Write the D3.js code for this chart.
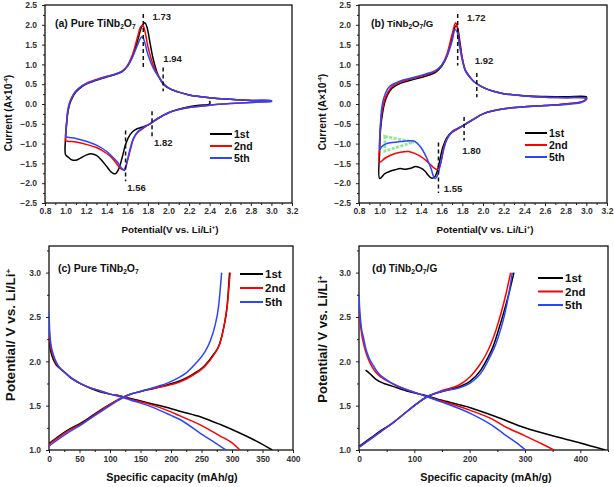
<!DOCTYPE html>
<html><head><meta charset="utf-8">
<script src="https://cdn.jsdelivr.net/npm/d3@7"></script>
<style>
body{margin:0;background:#fff;}
svg text{font-family:"Liberation Sans",Arial,sans-serif;font-weight:bold;}
</style></head>
<body><svg id="c" width="614" height="487"></svg>
<script>
// ---------------- DATA ----------------
const seriesNames = ["1st","2nd","5th"];
const seriesColors = ["#000000","#ff0000","#2b45ff"];

// CV pure TiNb2O7 (V, current x1e-4 A)
const cvA_1st = [[2.4,0.08],[2.4,0.0],[2.3,-0.03],[2.2,-0.07],[2.1,-0.13],[2.0,-0.22],[1.9,-0.36],[1.82,-0.5],[1.75,-0.58],[1.7,-0.62],[1.65,-0.7],[1.61,-0.85],[1.58,-1.05],[1.55,-1.35],[1.52,-1.62],[1.49,-1.75],[1.47,-1.76],[1.44,-1.71],[1.4,-1.58],[1.35,-1.42],[1.3,-1.3],[1.26,-1.26],[1.2,-1.29],[1.15,-1.36],[1.1,-1.42],[1.06,-1.41],[1.03,-1.35],[1.0,-1.28],[1.0,-0.85],[1.01,-0.5],[1.02,-0.25],[1.04,0.0],[1.07,0.18],[1.1,0.3],[1.15,0.42],[1.2,0.5],[1.3,0.6],[1.4,0.68],[1.5,0.76],[1.55,0.82],[1.6,0.95],[1.65,1.2],[1.7,1.6],[1.74,1.95],[1.77,2.05],[1.79,1.95],[1.82,1.55],[1.85,1.15],[1.9,0.72],[1.95,0.5],[2.0,0.4],[2.1,0.3],[2.2,0.23],[2.4,0.16],[2.6,0.12],[2.8,0.09],[3.0,0.07]];
const cvA_2nd = [[3.0,0.06],[2.8,0.04],[2.6,0.01],[2.4,-0.03],[2.2,-0.09],[2.1,-0.14],[2.0,-0.22],[1.9,-0.36],[1.82,-0.5],[1.75,-0.62],[1.7,-0.72],[1.66,-0.88],[1.63,-1.15],[1.6,-1.45],[1.58,-1.62],[1.56,-1.66],[1.53,-1.62],[1.5,-1.52],[1.45,-1.36],[1.4,-1.25],[1.3,-1.1],[1.2,-1.02],[1.1,-0.96],[1.0,-0.92],[1.0,-0.85],[1.01,-0.5],[1.02,-0.22],[1.04,0.02],[1.07,0.2],[1.1,0.32],[1.15,0.44],[1.2,0.52],[1.3,0.62],[1.4,0.7],[1.5,0.77],[1.55,0.83],[1.6,0.97],[1.65,1.25],[1.7,1.7],[1.73,1.95],[1.75,1.99],[1.77,1.85],[1.8,1.45],[1.85,1.0],[1.9,0.72],[1.95,0.52],[2.0,0.41],[2.1,0.3],[2.2,0.23],[2.4,0.16],[2.6,0.12],[2.8,0.09],[3.0,0.08],[3.0,0.06]];
const cvA_5th = [[3.0,0.06],[2.8,0.04],[2.6,0.01],[2.4,-0.03],[2.2,-0.09],[2.1,-0.14],[2.0,-0.22],[1.9,-0.36],[1.82,-0.5],[1.75,-0.6],[1.7,-0.7],[1.66,-0.86],[1.63,-1.1],[1.6,-1.42],[1.58,-1.63],[1.57,-1.68],[1.54,-1.6],[1.5,-1.45],[1.45,-1.32],[1.4,-1.2],[1.3,-1.04],[1.2,-0.94],[1.1,-0.87],[1.0,-0.82],[1.0,-0.78],[1.01,-0.45],[1.02,-0.18],[1.04,0.05],[1.07,0.22],[1.1,0.33],[1.15,0.44],[1.2,0.51],[1.3,0.61],[1.4,0.69],[1.5,0.77],[1.55,0.83],[1.6,0.95],[1.65,1.18],[1.7,1.5],[1.73,1.67],[1.745,1.7],[1.77,1.55],[1.8,1.25],[1.85,0.92],[1.9,0.7],[1.95,0.52],[2.0,0.41],[2.1,0.3],[2.2,0.23],[2.4,0.16],[2.6,0.12],[2.8,0.09],[3.0,0.08],[3.0,0.06]];

// CV TiNb2O7/G
const cvB_1st = [[3.0,0.12],[2.95,0.05],[2.8,0.0],[2.6,-0.04],[2.4,-0.07],[2.2,-0.12],[2.1,-0.17],[2.0,-0.25],[1.9,-0.4],[1.8,-0.56],[1.75,-0.63],[1.7,-0.7],[1.65,-0.85],[1.61,-1.1],[1.58,-1.45],[1.55,-1.75],[1.53,-1.85],[1.5,-1.87],[1.47,-1.8],[1.44,-1.7],[1.4,-1.62],[1.35,-1.58],[1.3,-1.62],[1.25,-1.65],[1.2,-1.63],[1.15,-1.66],[1.1,-1.7],[1.05,-1.76],[1.0,-1.88],[1.0,-1.2],[1.01,-0.6],[1.03,-0.2],[1.05,0.05],[1.08,0.25],[1.12,0.4],[1.2,0.52],[1.3,0.6],[1.4,0.67],[1.5,0.75],[1.55,0.82],[1.6,0.95],[1.65,1.2],[1.7,1.65],[1.73,1.95],[1.745,1.98],[1.76,1.85],[1.78,1.5],[1.8,1.15],[1.83,0.85],[1.88,0.66],[1.92,0.55],[2.0,0.42],[2.1,0.32],[2.2,0.26],[2.4,0.21],[2.6,0.19],[2.8,0.18],[3.0,0.18],[3.0,0.12]];
const cvB_2nd = [[3.0,0.12],[2.95,0.05],[2.8,0.0],[2.6,-0.04],[2.4,-0.07],[2.2,-0.12],[2.1,-0.17],[2.0,-0.25],[1.9,-0.4],[1.8,-0.56],[1.75,-0.64],[1.7,-0.72],[1.65,-0.88],[1.62,-1.1],[1.6,-1.38],[1.58,-1.58],[1.56,-1.65],[1.53,-1.62],[1.5,-1.55],[1.45,-1.43],[1.4,-1.33],[1.35,-1.26],[1.28,-1.2],[1.2,-1.22],[1.1,-1.3],[1.05,-1.37],[1.0,-1.47],[1.0,-1.0],[1.01,-0.5],[1.03,-0.1],[1.05,0.12],[1.08,0.3],[1.12,0.44],[1.2,0.55],[1.3,0.63],[1.4,0.7],[1.5,0.78],[1.55,0.84],[1.6,0.98],[1.65,1.25],[1.7,1.75],[1.735,2.05],[1.75,1.95],[1.77,1.6],[1.8,1.15],[1.83,0.85],[1.88,0.66],[1.92,0.55],[2.0,0.42],[2.1,0.32],[2.2,0.26],[2.4,0.2],[2.6,0.17],[2.8,0.16],[3.0,0.15],[3.0,0.12]];
const cvB_5th = [[3.0,0.1],[2.95,0.04],[2.8,-0.01],[2.6,-0.04],[2.4,-0.07],[2.2,-0.12],[2.1,-0.17],[2.0,-0.25],[1.9,-0.39],[1.8,-0.55],[1.75,-0.62],[1.7,-0.7],[1.65,-0.9],[1.62,-1.15],[1.59,-1.5],[1.56,-1.8],[1.54,-1.88],[1.52,-1.82],[1.5,-1.65],[1.47,-1.45],[1.44,-1.28],[1.4,-1.1],[1.36,-0.98],[1.32,-0.93],[1.28,-0.93],[1.2,-0.95],[1.1,-0.98],[1.05,-1.02],[1.02,-1.08],[1.0,-1.15],[1.0,-0.9],[1.01,-0.4],[1.02,-0.1],[1.04,0.15],[1.07,0.35],[1.1,0.45],[1.2,0.58],[1.3,0.65],[1.4,0.72],[1.5,0.8],[1.55,0.86],[1.6,0.98],[1.65,1.2],[1.7,1.58],[1.73,1.88],[1.75,1.82],[1.77,1.5],[1.8,1.1],[1.83,0.83],[1.88,0.65],[1.92,0.55],[2.0,0.42],[2.1,0.32],[2.2,0.26],[2.4,0.2],[2.6,0.17],[2.8,0.16],[3.0,0.14],[3.0,0.1]];
const greenMarkB = [[1.05,-0.82],[1.33,-0.96],[1.05,-1.19]];

// Peak annotations: [label, potential, from current, to current, label x, label y]
const peaksA = [["1.73",1.755,2.27,0.92,1.845,2.12],["1.94",1.948,0.92,0.32,1.95,1.05],["1.82",1.84,-0.18,-0.82,1.86,-1.05],["1.56",1.583,-0.67,-1.95,1.6,-2.2]];
const peaksB = [["1.72",1.755,2.27,0.97,1.845,2.1],["1.92",1.94,0.78,0.17,1.92,1.02],["1.80",1.817,-0.33,-0.92,1.8,-1.27],["1.55",1.569,-0.97,-2.25,1.62,-2.23]];

// Charge/discharge pure TiNb2O7 (mAh/g, V)
const gcdC_dis_1st = [[0,2.3],[2,2.15],[5,2.06],[10,1.98],[16,1.93],[25,1.88],[33,1.83],[54,1.74],[82,1.66],[100,1.63],[117,1.61],[140,1.57],[163,1.53],[198,1.47],[213,1.44],[250,1.37],[280,1.29],[310,1.2],[340,1.1],[366,1.0]];
const gcdC_dis_2nd = [[0,2.4],[2,2.2],[5,2.1],[10,2.0],[16,1.94],[25,1.88],[33,1.83],[54,1.74],[82,1.67],[100,1.63],[117,1.61],[140,1.56],[163,1.52],[200,1.43],[213,1.39],[252,1.27],[280,1.16],[300,1.08],[313,1.0]];
const gcdC_dis_5th = [[0,2.55],[1,2.35],[3,2.2],[6,2.1],[10,2.02],[16,1.94],[25,1.88],[33,1.83],[54,1.74],[82,1.67],[100,1.63],[117,1.6],[140,1.55],[163,1.5],[200,1.39],[213,1.35],[252,1.17],[275,1.07],[290,1.0]];
const gcdC_chg_1st = [[0,1.07],[5,1.1],[15,1.15],[30,1.22],[54,1.31],[80,1.43],[109,1.55],[130,1.62],[150,1.66],[175,1.7],[196,1.74],[215,1.78],[235,1.85],[255,1.95],[270,2.08],[280,2.2],[287,2.4],[292,2.62],[296,3.0]];
const gcdC_chg_2nd = [[0,1.06],[5,1.09],[15,1.14],[30,1.21],[54,1.3],[80,1.42],[109,1.55],[130,1.62],[150,1.66],[175,1.7],[196,1.73],[215,1.77],[235,1.84],[255,1.94],[270,2.07],[280,2.2],[287,2.4],[292,2.62],[297,3.0]];
const gcdC_chg_5th = [[0,1.04],[5,1.07],[15,1.12],[30,1.19],[54,1.29],[80,1.41],[109,1.54],[130,1.62],[150,1.66],[175,1.71],[196,1.76],[211,1.81],[225,1.87],[241,1.98],[255,2.1],[265,2.24],[272,2.4],[278,2.62],[283,3.0]];

// Charge/discharge TiNb2O7/G
const gcdD_dis_1st = [[12,1.9],[18,1.87],[30,1.8],[45,1.75],[60,1.72],[90,1.66],[110,1.63],[123,1.61],[150,1.56],[200,1.48],[250,1.37],[300,1.25],[350,1.16],[400,1.08],[445,1.0]];
const gcdD_dis_2nd = [[0,2.6],[2,2.45],[5,2.3],[9,2.18],[14,2.07],[20,1.98],[30,1.88],[40,1.82],[60,1.75],[90,1.67],[110,1.63],[123,1.6],[150,1.55],[200,1.45],[240,1.35],[262,1.27],[300,1.16],[330,1.07],[352,1.0]];
const gcdD_dis_5th = [[0,2.75],[1,2.62],[3,2.45],[5,2.35],[8,2.27],[12,2.15],[18,2.04],[25,1.96],[36,1.86],[48,1.8],[60,1.75],[90,1.67],[110,1.63],[123,1.6],[150,1.54],[202,1.41],[240,1.28],[262,1.18],[285,1.08],[301,1.0]];
const gcdD_chg_1st = [[0,1.04],[20,1.13],[40,1.22],[60,1.3],[80,1.4],[100,1.5],[123,1.6],[150,1.66],[180,1.71],[200,1.77],[220,1.9],[232,2.03],[242,2.16],[252,2.35],[262,2.56],[272,2.79],[280,3.0]];
const gcdD_chg_2nd = [[0,1.03],[20,1.12],[40,1.21],[60,1.3],[80,1.4],[100,1.5],[123,1.6],[150,1.67],[180,1.73],[200,1.82],[217,1.95],[228,2.06],[238,2.19],[248,2.36],[257,2.55],[266,2.77],[274,3.0]];
const gcdD_chg_5th = [[0,1.03],[20,1.12],[40,1.21],[60,1.3],[80,1.4],[100,1.5],[123,1.6],[150,1.66],[180,1.7],[200,1.75],[224,1.9],[236,2.04],[247,2.19],[256,2.36],[264,2.55],[271,2.77],[277,3.0]];

// Ticks
const cvXTicks = [0.8,1.0,1.2,1.4,1.6,1.8,2.0,2.2,2.4,2.6,2.8,3.0,3.2];
const cvYTicks = [-2.5,-2.0,-1.5,-1.0,-0.5,0.0,0.5,1.0,1.5,2.0,2.5];
const cXTicks = [0,50,100,150,200,250,300,350,400];
const dXTicks = [0,100,200,300,400];
const gcdYTicks = [1.0,1.5,2.0,2.5,3.0];

// ---------------- DRAW ----------------
const svg = d3.select("#c");
const FONT_TICK = 8.5;

function minorVals(ticks, step, lo, hi){
  const out=[];
  for(let v=lo; v<=hi+1e-9; v+=step){
    if(!ticks.some(t=>Math.abs(t-v)<1e-6)) out.push(+v.toFixed(6));
  }
  return out;
}

function panel(p){
  const x = d3.scaleLinear().domain(p.xd).range([p.x0,p.x1]);
  const y = d3.scaleLinear().domain(p.yd).range([p.y1,p.y0]);
  const g = svg.append("g");
  g.append("g").attr("transform",`translate(0,${p.y1})`)
    .call(d3.axisBottom(x).tickValues(p.xt).tickFormat(p.xf).tickSize(3).tickPadding(p.xpad));
  g.append("g").attr("transform",`translate(0,${p.y1})`)
    .call(d3.axisBottom(x).tickValues(minorVals(p.xt,p.xminor,p.xd[0],p.xd[1])).tickFormat("").tickSize(2));
  g.append("g").attr("transform",`translate(${p.x0},0)`)
    .call(d3.axisLeft(y).tickValues(p.yt).tickFormat(d3.format(".1f")).tickSize(3).tickPadding(p.ypad));
  g.append("g").attr("transform",`translate(${p.x0},0)`)
    .call(d3.axisLeft(y).tickValues(minorVals(p.yt,p.yminor,p.yd[0],p.yd[1])).tickFormat("").tickSize(2));
  g.selectAll(".domain").remove();
  g.selectAll(".tick line").attr("stroke","#222").attr("stroke-width",1);
  g.selectAll(".tick text").attr("font-size",FONT_TICK).attr("fill","#333")
    .attr("font-family","'Liberation Sans',Arial,sans-serif").attr("font-weight","bold");
  g.append("rect").attr("x",p.x0).attr("y",p.y0).attr("width",p.x1-p.x0).attr("height",p.y1-p.y0)
    .attr("fill","none").attr("stroke","#111").attr("stroke-width",1.3);
  const cid = "clip"+p.id;
  svg.append("clipPath").attr("id",cid).append("rect").attr("x",p.x0).attr("y",p.y0).attr("width",p.x1-p.x0).attr("height",p.y1-p.y0);
  const plot = g.append("g").attr("clip-path",`url(#${cid})`);
  const line = d3.line().x(d=>x(d[0])).y(d=>y(d[1])).curve(p.curve);
  if(p.extra) p.extra(plot,x,y);
  p.series.forEach((arrs,i)=>{
    arrs.forEach(arr=>{
      plot.append("path").attr("d",line(arr)).attr("fill","none")
        .attr("stroke",seriesColors[i]).attr("stroke-width",1.5).attr("stroke-linejoin","round");
    });
  });
  if(p.peaks){
    p.peaks.forEach(pk=>{
      g.append("line").attr("x1",x(pk[1])).attr("x2",x(pk[1])).attr("y1",y(pk[2])).attr("y2",y(pk[3]))
        .attr("stroke","#111").attr("stroke-width",1.5).attr("stroke-dasharray","4,3");
      g.append("text").attr("x",x(pk[4])).attr("y",y(pk[5])).attr("font-size",9.5).attr("fill","#222").text(pk[0]);
    });
  }
  seriesNames.forEach((n,i)=>{
    const ly = p.leg.y + i*p.leg.dy;
    g.append("line").attr("x1",p.leg.x).attr("x2",p.leg.x+p.leg.w).attr("y1",ly).attr("y2",ly)
      .attr("stroke",seriesColors[i]).attr("stroke-width",2);
    g.append("text").attr("x",p.leg.x+p.leg.w+2).attr("y",ly+p.leg.fs*0.36).attr("font-size",p.leg.fs).attr("fill","#111").text(n);
  });
  const lab = g.append("text").attr("x",p.lab.x).attr("y",p.lab.y).attr("font-size",p.lab.fs).attr("fill","#111");
  lab.append("tspan").text(p.lab.pre);
  lab.append("tspan").text(" TiNb").attr("font-size",p.lab.fs*p.lab.k);
  lab.append("tspan").text("2").attr("font-size",p.lab.fs*0.62).attr("dy",1.5);
  lab.append("tspan").text("O").attr("font-size",p.lab.fs*p.lab.k).attr("dy",-1.5);
  lab.append("tspan").text("7").attr("font-size",p.lab.fs*0.62).attr("dy",1.5);
  if(p.lab.post) lab.append("tspan").text(p.lab.post).attr("font-size",p.lab.fs*p.lab.k).attr("dy",-1.5);
  const xt = g.append("text").attr("x",p.xtitle.x).attr("y",p.xtitle.y).attr("text-anchor","middle")
    .attr("font-size",p.xtitle.fs).attr("fill","#111");
  p.xtitle.parts.forEach(pt=>{
    const ts = xt.append("tspan").text(pt[0]);
    if(pt[1]==="sup") ts.attr("font-size",p.xtitle.fs*0.6).attr("dy",-4);
    if(pt[1]==="back") ts.attr("dy",4);
  });
  const yt = g.append("text").attr("transform",`translate(${p.ytitle.x},${p.ytitle.y}) rotate(-90)`).attr("text-anchor","middle")
    .attr("font-size",p.ytitle.fs).attr("fill","#111");
  p.ytitle.parts.forEach(pt=>{
    const ts = yt.append("tspan").text(pt[0]);
    if(pt[1]==="sup") ts.attr("font-size",p.ytitle.fs*0.6).attr("dy",-4);
    if(pt[1]==="back") ts.attr("dy",4);
  });
}

const cvXTitle = [["Potential(V vs. Li/Li",""],["+","sup"],[")","back"]];
const cvYTitle = [["Current (A\u00d710",""],["-4","sup"],[")","back"]];
const gcdXTitle = [["Specific capacity (mAh/g)",""]];
const gcdYTitle = [["Potential/ V vs. Li/Li",""],["+","sup"]];
const cvCurve = d3.curveCatmullRom.alpha(0.5);
const gcdCurve = d3.curveMonotoneX;

panel({id:"a",x0:45,x1:292,y0:5,y1:203,xd:[0.8,3.2],yd:[-2.5,2.5],xt:cvXTicks,yt:cvYTicks,
  xf:d3.format(".1f"),xminor:0.1,yminor:0.25,xpad:2,ypad:5,curve:cvCurve,
  series:[[cvA_1st],[cvA_2nd],[cvA_5th]],peaks:peaksA,
  leg:{x:210,y:134,dy:12,w:22,fs:10.5},
  lab:{x:55,y:27,fs:10.5,k:1,pre:"(a) Pure"},
  xtitle:{x:170,y:233,fs:9.8,parts:cvXTitle},
  ytitle:{x:12,y:113,fs:10.2,parts:cvYTitle}});

panel({id:"b",x0:359,x1:607,y0:5,y1:203,xd:[0.8,3.2],yd:[-2.5,2.5],xt:cvXTicks,yt:cvYTicks,
  xf:d3.format(".1f"),xminor:0.1,yminor:0.25,xpad:2,ypad:5,curve:cvCurve,
  series:[[cvB_1st],[cvB_2nd],[cvB_5th]],peaks:peaksB,
  extra:(plot,x,y)=>{
    plot.append("path").attr("d",d3.line().x(d=>x(d[0])).y(d=>y(d[1]))(greenMarkB)+"Z")
      .attr("fill","none").attr("stroke","#8fe88f").attr("stroke-width",2.8).attr("stroke-dasharray","3,1.5");
  },
  leg:{x:525,y:133,dy:12,w:22,fs:10.5},
  lab:{x:371,y:27,fs:10.5,k:0.92,pre:"(b)",post:"/G"},
  xtitle:{x:485,y:233,fs:9.8,parts:cvXTitle},
  ytitle:{x:326,y:112,fs:10.2,parts:cvYTitle}});

panel({id:"c",x0:49,x1:293,y0:246,y1:450,xd:[0,400],yd:[1.0,3.3],xt:cXTicks,yt:gcdYTicks,
  xf:d3.format("d"),xminor:25,yminor:0.25,xpad:3,ypad:5,curve:gcdCurve,
  series:[[gcdC_dis_1st,gcdC_chg_1st],[gcdC_dis_2nd,gcdC_chg_2nd],[gcdC_dis_5th,gcdC_chg_5th]],
  leg:{x:240,y:274,dy:14,w:23,fs:11.5},
  lab:{x:58,y:272,fs:10.5,k:1,pre:"(c) Pure"},
  xtitle:{x:172,y:481,fs:10.8,parts:gcdXTitle},
  ytitle:{x:15,y:335,fs:13.5,parts:gcdYTitle}});

panel({id:"d",x0:359,x1:608,y0:246,y1:450,xd:[0,450],yd:[1.0,3.3],xt:dXTicks,yt:gcdYTicks,
  xf:d3.format("d"),xminor:50,yminor:0.25,xpad:3,ypad:5,curve:gcdCurve,
  series:[[gcdD_dis_1st,gcdD_chg_1st],[gcdD_dis_2nd,gcdD_chg_2nd],[gcdD_dis_5th,gcdD_chg_5th]],
  leg:{x:538,y:278,dy:13.5,w:25,fs:11.5},
  lab:{x:372,y:272,fs:11,k:0.92,pre:"(d)",post:"/G"},
  xtitle:{x:486,y:481,fs:10.8,parts:gcdXTitle},
  ytitle:{x:327,y:339,fs:13,parts:gcdYTitle}});
</script></body></html>
